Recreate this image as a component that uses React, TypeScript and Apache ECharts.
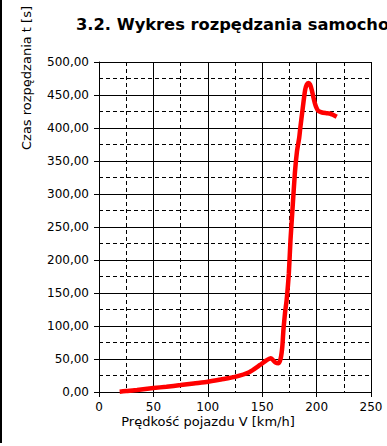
import React, { useEffect, useRef } from "react";
import * as echarts from "echarts";

const speeds = [19, 25, 35, 50, 62, 75, 87, 100, 112, 125, 138, 148, 153, 158, 162, 165, 167, 168.5, 169.5, 171, 172.5, 174.5, 176, 178, 180, 182, 184, 185, 186.5, 188, 189.5, 191, 192.5, 194, 195.5, 197, 198.5, 200, 201.5, 204, 206, 209, 212, 215, 218.5];
const times = [0.5, 1.5, 3, 6, 8, 10.5, 13, 15.5, 19, 23, 30, 41, 47, 51, 45, 43.5, 51, 69, 94, 120, 140, 180, 230, 281, 331, 365, 385, 400, 420, 440, 458, 466, 468, 466, 458, 447, 437, 430, 426, 424, 423, 422.5, 422, 420, 417];

const titleText = "3.2. Wykres rozpędzania samochodu";
const xName = "Prędkość pojazdu V [km/h]";
const yName = "Czas rozpędzania t [s]";

const FONT = "DejaVu Sans";

export default function App() {
  const ref = useRef<HTMLDivElement>(null);
  useEffect(() => {
    if (!ref.current) return;
    const chart = echarts.init(ref.current, null, { renderer: "svg" });
    const data = speeds.map((v, i) => [v, times[i]]);
    chart.setOption({
      animation: false,
      backgroundColor: "#ffffff",
      textStyle: { fontFamily: FONT },
      grid: { left: 99, right: 16, top: 62, bottom: 54, containLabel: false },
      graphic: [
        { type: "rect", left: 0, top: 0, shape: { x: 0, y: 0, width: 2, height: 443 }, style: { fill: "#000" } },
        {
          type: "text",
          x: 76,
          y: 24,
          style: { text: titleText, fontFamily: FONT, fontSize: 16.3, fontWeight: "bold", fill: "#000", textVerticalAlign: "middle", textAlign: "left" },
        },
        {
          type: "text",
          x: 208,
          y: 421,
          style: { text: xName, fontFamily: FONT, fontSize: 13, fill: "#000", textAlign: "center", textVerticalAlign: "middle" },
        },
        {
          type: "text",
          x: 26,
          y: 78,
          rotation: Math.PI / 2,
          style: { text: yName, fontFamily: FONT, fontSize: 13, fill: "#000", textAlign: "center", textVerticalAlign: "middle" },
        },
      ],
      xAxis: {
        type: "value",
        min: 0,
        max: 250,
        interval: 50,
        axisLine: { show: true, onZero: false, lineStyle: { color: "#000", width: 1 } },
        axisTick: { show: true, length: 5, lineStyle: { color: "#000" } },
        axisLabel: { color: "#000", fontSize: 12, fontFamily: FONT, margin: 9 },
        splitLine: { show: true, lineStyle: { color: "#000", width: 1 } },
        minorTick: { show: false, splitNumber: 2 },
        minorSplitLine: { show: true, lineStyle: { color: "#000", width: 1, type: [4, 3] } },
      },
      yAxis: {
        type: "value",
        min: 0,
        max: 500,
        interval: 50,
        axisLine: { show: true, lineStyle: { color: "#000", width: 1 } },
        axisTick: { show: true, length: 5, lineStyle: { color: "#000" } },
        axisLabel: {
          color: "#000",
          fontSize: 12,
          fontFamily: FONT,
          margin: 10,
          formatter: (v: number) => v.toFixed(2).replace(".", ","),
        },
        splitLine: { show: true, lineStyle: { color: "#000", width: 1 } },
        minorTick: { show: false, splitNumber: 2 },
        minorSplitLine: { show: true, lineStyle: { color: "#000", width: 1, type: [4, 3] } },
      },
      series: [
        {
          type: "line",
          data,
          showSymbol: false,
          smooth: 0.2,
          lineStyle: { color: "#ff0000", width: 4.5 },
          itemStyle: { color: "#ff0000" },
          z: 5,
        },
      ],
    });
    return () => chart.dispose();
  }, []);
  return (
    <div
      ref={ref}
      style={{ position: "fixed", left: 0, top: 0, width: 387, height: 446, overflow: "hidden" }}
    />
  );
}
